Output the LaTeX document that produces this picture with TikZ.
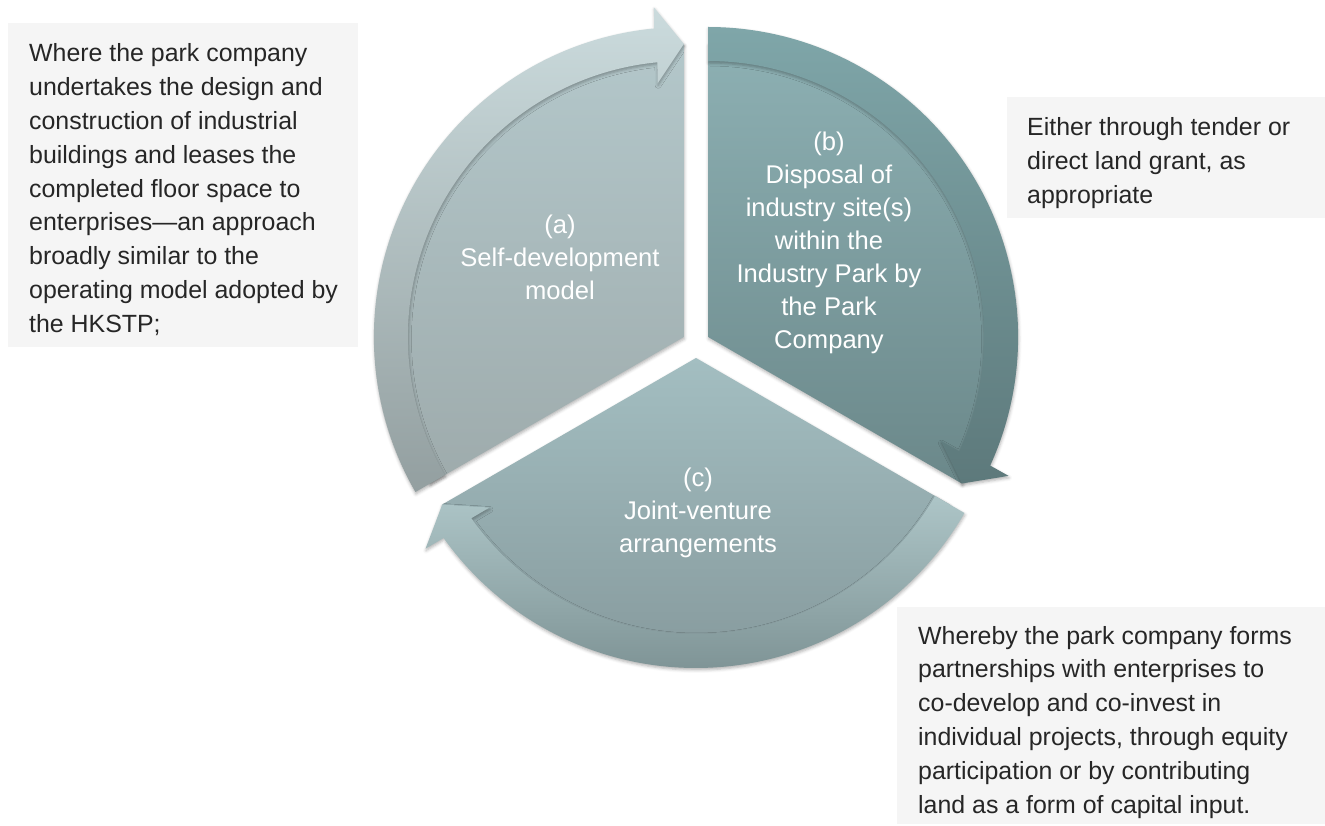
\documentclass[tikz,border=0pt]{standalone}
\usepackage{fontspec}
\setmainfont{Liberation Sans}
\usetikzlibrary{calc,shadows.blur}

% palette
\definecolor{notefill}{HTML}{F5F5F5}
\definecolor{notetext}{HTML}{262626}
\definecolor{wedgeAtop}{HTML}{B3C7CA}
\definecolor{wedgeAbot}{HTML}{9EABAC}
\definecolor{bandAtop}{HTML}{CBDBDD}
\definecolor{bandAbot}{HTML}{939FA0}
\definecolor{wedgeBtop}{HTML}{8DB0B3}
\definecolor{wedgeBbot}{HTML}{6B888A}
\definecolor{bandBtop}{HTML}{7FA6A9}
\definecolor{bandBbot}{HTML}{5D797B}
\definecolor{wedgeCtop}{HTML}{A3BEC1}
\definecolor{wedgeCbot}{HTML}{84979A}
\definecolor{bandCtop}{HTML}{ADC5C7}
\definecolor{bandCbot}{HTML}{7D9294}

\tikzset{
  notetextstyle/.style={font=\fontsize{24.9}{33.8}\selectfont, text=notetext,
    align=left, anchor=north west, inner sep=0pt},
  pietext/.style={font=\fontsize{25.6}{33}\selectfont, text=white,
    align=center, inner sep=0pt},
  softshadow/.style={blur shadow={shadow xshift=0.5pt, shadow yshift=-2pt,
    shadow blur radius=3pt, shadow opacity=30}},
}

% curved band running clockwise from angle #3 to an arrow tip at angle #5
% #1 name, #2 centre, #3 tail angle, #4 arrow base angle, #5 tip angle,
% #6 top colour, #7 bottom colour
\newcommand{\cyclearrow}[7]{%
  \coordinate (#1-mid) at ($(#2)+(#4:293)$);
  \coordinate (#1-tip) at ($(#2)+(#5:293)$);
  \coordinate (#1-out) at ($(#1-mid)!38pt!90:(#1-tip)$);
  \coordinate (#1-in)  at ($(#1-mid)!38pt!-90:(#1-tip)$);
  \path[softshadow, top color=#6, bottom color=#7]
    ($(#2)+(#4:276)$) -- (#1-in) -- (#1-tip) -- (#1-out) -- ($(#2)+(#4:310)$)
    arc[start angle=#4, end angle=#3, radius=310]
    -- ($(#2)+(#3:276)$)
    arc[start angle=#3, end angle=#4, radius=276] -- cycle;
}

\begin{document}
\begin{tikzpicture}[x=1pt,y=1pt]
\useasboundingbox (0,0) rectangle (1325,825);

% centre of the cycle and the three exploded segment apexes
\coordinate (O) at (696,481);
\coordinate (A) at ($(O)+(150:14)$);
\coordinate (B) at ($(O)+(30:14)$);
\coordinate (C) at ($(O)+(270:14)$);

% pie segments
\path[softshadow, top color=wedgeAtop, bottom color=wedgeAbot]
  (A) -- ($(A)+(90:293)$) arc[start angle=90, end angle=210, radius=293] -- cycle;
\path[softshadow, top color=wedgeBtop, bottom color=wedgeBbot]
  (B) -- ($(B)+(-30:293)$) arc[start angle=-30, end angle=90, radius=293] -- cycle;
\path[softshadow, top color=wedgeCtop, bottom color=wedgeCbot]
  (C) -- ($(C)+(210:293)$) arc[start angle=210, end angle=330, radius=293] -- cycle;

% arrow bands
\cyclearrow{arrA}{A}{210}{95.5}{90}{bandAtop}{bandAbot}
\cyclearrow{arrB}{B}{90}{-24.5}{-30}{bandBtop}{bandBbot}
\cyclearrow{arrC}{C}{-30}{-144.5}{-150}{bandCtop}{bandCbot}

% segment labels
\node[pietext] (labA) at (560,565)
  {\strut(a)\\\strut Self-development\\\strut model};
\node[pietext] (labB) at (829,582)
  {\strut(b)\\\strut Disposal of\\\strut industry site(s)\\\strut within the\\
   \strut Industry Park by\\\strut the Park\\\strut Company};
\node[pietext] (labC) at (698,312)
  {\strut(c)\\\strut Joint-venture\\\strut arrangements};

% explanatory notes
\fill[notefill] (8,478) rectangle (358,802);
\node[notetextstyle] (noteA) at (29,787)
  {\strut Where the park company\\
   undertakes the design and\\
   construction of industrial\\
   buildings and leases the\\
   completed floor space to\\
   enterprises—an approach\\
   broadly similar to the\\
   operating model adopted by\\
   the HKSTP;\strut};

\fill[notefill] (1007,607) rectangle (1325,728);
\node[notetextstyle] (noteB) at (1027,713)
  {\strut Either through tender or\\
   direct land grant, as\\
   appropriate\strut};

\fill[notefill] (897,1) rectangle (1325,218);
\node[notetextstyle] (noteC) at (918,204.7)
  {\strut Whereby the park company forms\\
   partnerships with enterprises to\\
   co-develop and co-invest in\\
   individual projects, through equity\\
   participation or by contributing\\
   land as a form of capital input.\strut};
\end{tikzpicture}
\end{document}
